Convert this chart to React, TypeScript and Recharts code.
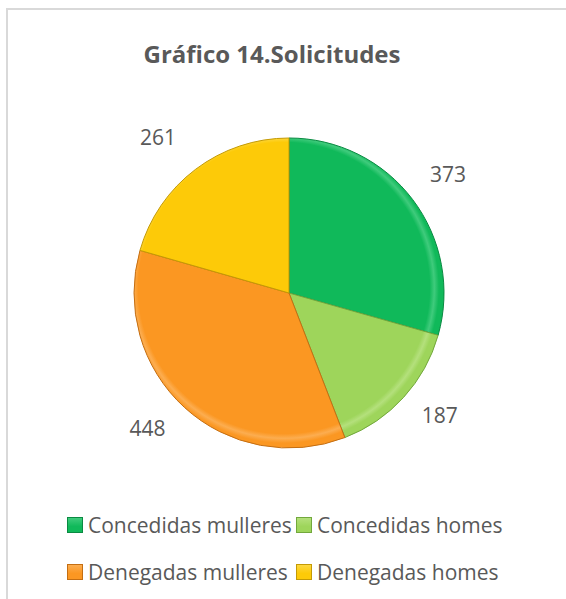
import React from 'react';
import { PieChart, Pie, Cell, Legend } from 'recharts';

const categories = ['Concedidas mulleres', 'Concedidas homes', 'Denegadas mulleres', 'Denegadas homes'];
const values = [373, 187, 448, 261];
const colors = ['#10b95a', '#9ed55b', '#fb9722', '#fdca08'];
const lightColors = ['#3fcb7c', '#b4e07c', '#fcad50', '#fdd840'];
const edgeColors = ['#0a8a42', '#72a83c', '#c46e12', '#c49a05'];

const data = categories.map((name, i) => ({ name, value: values[i] }));

const RADIAN = Math.PI / 180;
const FONT = '"Open Sans", "Liberation Sans", sans-serif';
const CX = 284;
const CY = 288;
const R = 155;

// outside-end labels, box pushed away from the pie like Excel does
const renderLabel = (props: any) => {
  const { cx, cy, midAngle, outerRadius, value } = props;
  const c = Math.cos(-midAngle * RADIAN);
  const s = Math.sin(-midAngle * RADIAN);
  const x = cx + c * (outerRadius - 12) + Math.sign(c) * 45;
  const y = cy + s * (outerRadius + 34) - 5;
  return (
    <text x={x} y={y} fill="#595959" fontSize={21} fontFamily={FONT} textAnchor="middle" dominantBaseline="central">
      {value}
    </text>
  );
};

// legend built from the category list so order stays as in the source
const LegendContent = () => {
  const rows = [[0, 1], [2, 3]];
  return (
    <div style={{ fontFamily: FONT, fontSize: 21, color: '#595959' }}>
      {rows.map((row, ri) => (
        <div key={ri} style={{ display: 'flex', height: 47, alignItems: 'center', paddingLeft: 67 }}>
          {row.map((idx, i) => (
            <div key={categories[idx]} style={{ display: 'flex', alignItems: 'center', width: i === 0 ? 229 : 'auto' }}>
              <span
                style={{
                  display: 'inline-block',
                  width: 14,
                  height: 14,
                  background: `linear-gradient(${lightColors[idx]}, ${colors[idx]} 60%)`,
                  border: `1px solid ${edgeColors[idx]}`,
                  marginRight: 5,
                }}
              />
              <span style={{ whiteSpace: 'nowrap' }}>{categories[idx]}</span>
            </div>
          ))}
        </div>
      ))}
    </div>
  );
};

export default function App() {
  return (
    <div style={{ position: 'absolute', left: 0, top: 0, width: 566, height: 599, background: '#fff', overflow: 'hidden' }}>
      <div
        style={{
          position: 'absolute',
          left: 6,
          top: 8,
          width: 558,
          height: 589,
          borderLeft: '2px solid #d9d9d9',
          borderTop: '2px solid #d9d9d9',
        }}
      />
      <div
        style={{
          position: 'absolute',
          left: 0,
          width: 544,
          top: 37,
          textAlign: 'center',
          fontFamily: FONT,
          fontWeight: 700,
          fontSize: 24,
          color: '#595959',
        }}
      >
        Gráfico 14.Solicitudes
      </div>
      <div style={{ position: 'absolute', left: 0, top: 0 }}>
        <PieChart width={566} height={599}>
          <defs>
            {colors.map((col, i) => (
              <radialGradient key={i} id={`bevel${i}`} gradientUnits="userSpaceOnUse" cx={CX} cy={CY} r={R}>
                <stop offset="0%" stopColor={col} />
                <stop offset="94%" stopColor={col} />
                <stop offset="97%" stopColor={lightColors[i]} />
                <stop offset="100%" stopColor={col} />
              </radialGradient>
            ))}
          </defs>
          <Pie
            data={data}
            dataKey="value"
            nameKey="name"
            cx={CX}
            cy={CY}
            outerRadius={R}
            startAngle={90}
            endAngle={-270}
            label={renderLabel}
            labelLine={false}
            isAnimationActive={false}
          >
            {data.map((d, i) => (
              <Cell key={d.name} fill={`url(#bevel${i})`} stroke={edgeColors[i]} strokeWidth={1} />
            ))}
          </Pie>
          <Legend content={<LegendContent />} wrapperStyle={{ left: 0, top: 501, width: 566 }} />
        </PieChart>
      </div>
    </div>
  );
}
